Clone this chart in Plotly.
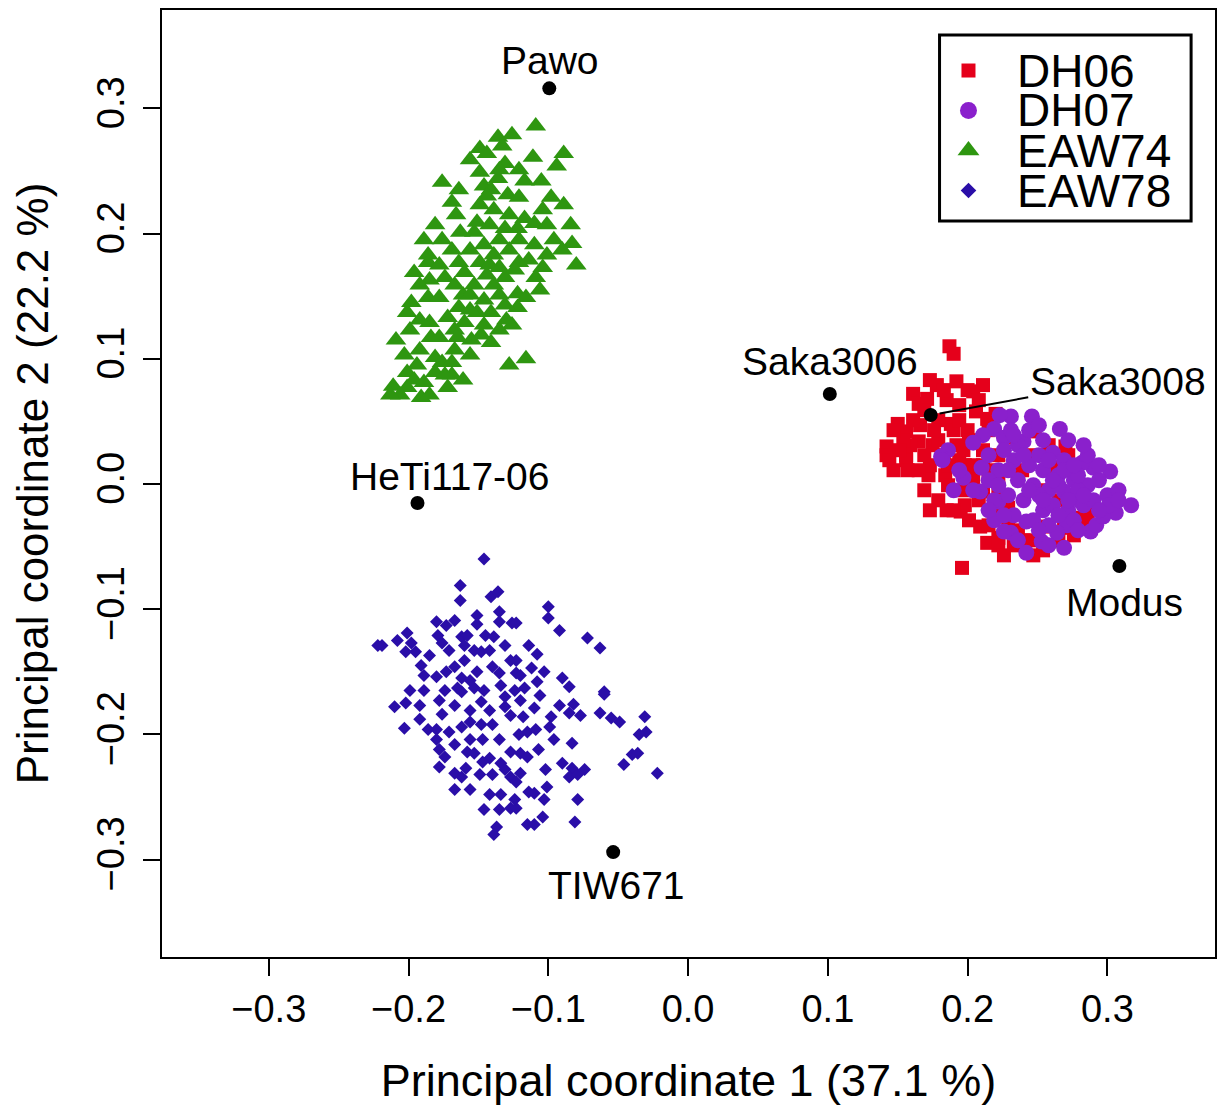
import plotly.graph_objects as go

# ---------------- data ----------------
dh06_x = [0.187,0.190,0.173,0.178,0.192,0.200,0.204,0.161,0.165,0.171,0.185,0.194,0.206,0.150,0.156,0.166,0.188,0.200,0.142,0.156,0.165,0.175,0.192,0.214,0.220,
          0.142,0.156,0.157,0.172,0.184,0.173,0.185,0.195,0.198,0.173,0.198,0.204,0.209,0.214,0.222,0.196,0.219,0.211,0.257,0.247,0.269,0.281,0.289,0.229,0.239,0.264,0.248,0.270,0.228,
          0.179,0.190,0.201,0.211,0.183,0.194,0.204,0.215,0.186,0.197,0.208,0.222,0.229,0.236,0.179,0.169,0.159,0.215,0.222,0.251,0.265,0.222,0.233,0.244,0.217,0.154,0.147,
          0.147,0.169,0.183,0.176,0.161,0.194,0.208,0.211,0.151,0.165,0.179,0.190,0.201,0.215,0.226,0.240,0.254,0.265,0.276,0.222,0.233,0.244,0.258,0.272,0.186,0.211,0.197,0.169,0.144,0.286]
dh06_y = [0.110,0.104,0.083,0.079,0.082,0.075,0.074,0.072,0.064,0.068,0.067,0.063,0.058,0.048,0.042,0.047,0.048,0.043,0.030,0.023,0.034,0.031,0.031,0.052,0.056,
          0.023,0.019,0.011,0.007,0.007,-0.021,-0.021,-0.022,-0.017,0.015,0.015,0.005,-0.034,-0.047,-0.043,-0.067,-0.022,-0.006,-0.034,-0.057,-0.035,-0.027,-0.019,-0.019,0.011,0.013,0.042,0.030,0.037,
          0.051,0.043,0.035,0.027,0.023,0.019,0.015,0.011,-0.001,-0.005,-0.013,-0.009,-0.029,-0.037,0.035,0.023,0.031,0.043,0.023,-0.005,-0.013,-0.049,-0.049,-0.045,0.047,0.035,0.011,
          0.043,0.059,0.075,0.043,0.051,0.051,0.067,0.079,0.027,0.011,-0.013,-0.021,-0.029,-0.033,-0.057,-0.045,-0.053,-0.045,-0.041,0.003,0.011,0.023,0.031,0.023,0.015,0.015,0.027,-0.005,0.019,-0.029]

dh07_x = [0.302,0.317,0.306,0.300,0.290,0.282,0.288,0.292,0.297,0.271,0.264,0.269,0.253,0.242,0.231,0.242,0.254,0.281,0.269,0.246,0.266,0.231,0.240,0.261,0.223,0.219,0.211,0.204,0.186,0.181,0.226,
          0.182,0.197,0.190,0.209,0.210,0.222,0.219,0.226,
          0.233,0.244,0.254,0.265,0.276,0.286,0.236,0.247,0.258,0.279,0.229,0.240,0.251,0.261,0.272,0.283,0.290,0.222,0.215,0.233,0.247,0.258,0.276,0.226,0.236,0.251,0.269,0.254,0.279,0.265,0.215,0.231,0.244,0.294,0.286,
          0.272,0.283,0.294,0.308,0.301,0.222,0.229,0.240,0.258,0.269,0.283,0.294,0.279,0.251,0.236,0.226,0.219,0.265,0.254,0.244,0.261,0.276,0.233,0.251,0.194,0.204,0.215,0.272,0.308,0.258]
dh07_y = [0.010,-0.017,-0.023,-0.009,0.013,0.017,-0.038,-0.033,-0.026,-0.033,-0.039,-0.051,-0.046,-0.055,-0.039,-0.030,-0.021,-0.014,-0.006,0.054,0.044,0.054,0.034,0.025,0.055,0.044,0.039,0.033,0.027,0.022,0.037,
          0.019,0.005,-0.005,-0.006,0.013,-0.014,-0.029,-0.038,
          0.019,0.015,0.011,0.007,0.003,-0.001,0.003,-0.001,-0.005,-0.005,-0.009,-0.013,-0.009,-0.017,-0.021,-0.017,-0.013,0.011,0.003,-0.025,-0.029,-0.033,-0.029,0.027,0.031,0.023,0.019,0.035,0.007,-0.001,0.023,0.043,0.043,0.003,0.023,
          0.035,0.031,0.015,-0.005,-0.017,-0.001,0.011,0.023,0.019,0.011,-0.009,-0.021,-0.037,-0.037,-0.045,-0.025,-0.013,-0.025,-0.013,-0.005,0.003,0.015,0.039,0.047,0.011,-0.005,-0.021,-0.013,-0.013,-0.049]

eaw74_x = [-0.109,-0.136,-0.149,-0.144,-0.133,-0.111,-0.089,-0.094,-0.131,-0.149,-0.176,-0.117,-0.105,-0.136,-0.146,-0.169,-0.098,-0.129,-0.141,-0.084,-0.110,-0.101,-0.083,-0.090,-0.122,-0.176,-0.186,
           -0.080,-0.109,-0.122,-0.122,-0.126,-0.130,-0.141,-0.141,-0.128,-0.116,-0.209,-0.201,-0.198,-0.186,-0.185,-0.184,-0.165,-0.155,-0.148,-0.164,-0.161,-0.174,-0.153,-0.144,-0.131,-0.186,-0.164,
           -0.211,-0.201,-0.194,-0.181,-0.176,-0.169,-0.189,-0.201,-0.172,-0.191,-0.169,-0.181,
           -0.149,-0.139,-0.128,-0.142,-0.153,-0.135,-0.146,-0.156,-0.139,-0.128,-0.149,-0.160,-0.135,-0.121,-0.167,-0.156,-0.146,-0.135,-0.151,-0.160,-0.172,-0.178,-0.169,-0.178,-0.196,-0.163,-0.117,
           -0.110,-0.101,-0.121,-0.116,-0.135,-0.146,-0.167,-0.156,-0.144,-0.131,-0.104,-0.178,-0.192,-0.185,-0.206,
           -0.126,-0.156,-0.121,-0.164,-0.104,-0.089,-0.181,-0.166,-0.189,-0.114,-0.096,-0.124,-0.192,-0.199,-0.156,-0.139,-0.167,-0.203,-0.192,-0.174,-0.161,-0.196,-0.213,-0.185,-0.106,-0.131,-0.142,-0.151,-0.121,-0.135]
eaw74_y = [0.286,0.277,0.268,0.264,0.270,0.261,0.264,0.254,0.256,0.249,0.241,0.242,0.242,0.244,0.238,0.225,0.229,0.231,0.235,0.207,0.208,0.207,0.192,0.187,0.204,0.195,0.183,
           0.175,0.165,0.152,0.141,0.127,0.131,0.137,0.113,0.095,0.100,0.115,0.137,0.145,0.149,0.129,0.117,0.117,0.115,0.119,0.141,0.151,0.165,0.159,0.167,0.165,0.177,0.177,
           0.078,0.089,0.095,0.101,0.097,0.097,0.081,0.077,0.077,0.069,0.087,0.089,
           0.223,0.219,0.215,0.207,0.201,0.195,0.191,0.187,0.183,0.187,0.177,0.169,0.173,0.177,0.159,0.151,0.147,0.151,0.137,0.129,0.133,0.149,0.187,0.175,0.169,0.201,0.212,
           0.191,0.183,0.195,0.149,0.123,0.127,0.107,0.103,0.230,0.204,0.173,0.117,0.131,0.163,0.071,
           0.279,0.259,0.251,0.235,0.219,0.223,0.207,0.215,0.195,0.179,0.195,0.171,0.159,0.123,0.139,0.159,0.123,0.103,0.107,0.087,0.083,0.083,0.071,0.071,0.155,0.143,0.175,0.209,0.229,0.251]

eaw78_x = [-0.146,-0.163,-0.163,-0.141,-0.136,-0.135,-0.135,-0.126,-0.151,-0.151,-0.180,-0.173,-0.167,-0.179,-0.176,-0.162,-0.158,-0.160,-0.153,-0.148,-0.145,-0.139,-0.219,-0.208,-0.201,-0.198,-0.195,-0.202,
           -0.191,-0.189,-0.180,-0.173,-0.167,-0.162,-0.151,-0.140,-0.135,-0.127,-0.123,-0.134,-0.153,-0.165,
           -0.100,-0.100,-0.092,-0.072,-0.063,-0.123,-0.108,-0.123,-0.112,-0.103,-0.120,-0.108,-0.090,-0.085,-0.060,-0.117,
           -0.210,-0.202,-0.203,-0.176,-0.186,-0.180,-0.171,-0.162,-0.156,-0.156,-0.148,-0.162,-0.148,-0.140,-0.131,-0.127,-0.131,-0.147,-0.180,-0.178,-0.174,-0.178,-0.167,-0.162,-0.159,-0.158,-0.153,-0.142,
           -0.140,-0.134,-0.127,-0.127,-0.134,-0.127,-0.137,-0.139,-0.147,
           -0.060,-0.082,-0.085,-0.077,-0.063,-0.055,-0.049,-0.031,-0.030,-0.035,-0.110,-0.120,-0.118,-0.098,-0.099,-0.115,-0.109,-0.083,-0.107,-0.120,-0.115,-0.090,-0.083,-0.074,-0.085,-0.079,-0.102,
           -0.120,-0.123,-0.101,-0.114,-0.110,-0.079,-0.123,-0.104,-0.115,-0.110,-0.081,-0.046,-0.040,-0.036,-0.022,
           -0.189,-0.178,-0.167,-0.146,-0.142,-0.135,-0.121,-0.156,-0.167,-0.149,-0.156,-0.142,-0.124,-0.135,-0.192,-0.199,-0.222,-0.160,-0.114,
           -0.185,-0.171,-0.142,-0.131,-0.174,-0.156,-0.124,-0.106,-0.096,-0.131,-0.167,-0.146,-0.103,-0.092,-0.192]
eaw78_y = [-0.060,-0.081,-0.093,-0.090,-0.086,-0.102,-0.110,-0.111,-0.105,-0.112,-0.110,-0.113,-0.109,-0.121,-0.127,-0.122,-0.121,-0.129,-0.133,-0.134,-0.121,-0.122,-0.129,-0.125,-0.119,-0.127,-0.134,-0.134,
           -0.145,-0.153,-0.154,-0.150,-0.146,-0.155,-0.150,-0.146,-0.151,-0.141,-0.151,-0.161,-0.163,-0.163,
           -0.098,-0.107,-0.117,-0.123,-0.131,-0.111,-0.136,-0.141,-0.147,-0.150,-0.153,-0.158,-0.155,-0.162,-0.166,-0.163,
           -0.178,-0.175,-0.195,-0.184,-0.196,-0.196,-0.198,-0.194,-0.190,-0.181,-0.174,-0.166,-0.192,-0.192,-0.178,-0.185,-0.170,-0.204,-0.204,-0.212,-0.218,-0.226,-0.231,-0.234,-0.227,-0.214,-0.215,-0.219,
           -0.232,-0.223,-0.214,-0.234,-0.248,-0.259,-0.274,-0.280,-0.222,
           -0.168,-0.176,-0.183,-0.185,-0.183,-0.187,-0.190,-0.186,-0.198,-0.200,-0.179,-0.173,-0.186,-0.186,-0.194,-0.198,-0.196,-0.207,-0.212,-0.215,-0.218,-0.223,-0.227,-0.228,-0.234,-0.232,-0.228,
           -0.231,-0.238,-0.242,-0.246,-0.247,-0.252,-0.259,-0.266,-0.272,-0.272,-0.270,-0.224,-0.216,-0.215,-0.231,
           -0.165,-0.173,-0.177,-0.165,-0.181,-0.204,-0.200,-0.204,-0.208,-0.232,-0.244,-0.248,-0.252,-0.260,-0.177,-0.165,-0.129,-0.141,-0.129,
           -0.137,-0.133,-0.133,-0.129,-0.165,-0.157,-0.165,-0.169,-0.204,-0.228,-0.244,-0.260,-0.252,-0.177,-0.188]

ref_names = ["Pawo", "Saka3006", "Saka3008", "HeTi117-06", "Modus", "TIW671"]
ref_x = [-0.0993, 0.1014, 0.1736, -0.1936, 0.3086, -0.0536]
ref_y = [0.316, 0.0719, 0.0551, -0.0152, -0.0655, -0.294]

tick_vals = [-0.3, -0.2, -0.1, 0.0, 0.1, 0.2, 0.3]
legend_names = ["DH06", "DH07", "EAW74", "EAW78"]

# ---------------- styles ----------------
RED = "#E5001B"
PURPLE = "#8A20CC"
GREEN = "#2E9610"
BLUE = "#2A0EA8"
FONT = "Liberation Sans, Arial, sans-serif"

fig = go.Figure()
groups = [
    (dh06_x, dh06_y, RED, "square", 14),
    (dh07_x, dh07_y, PURPLE, "circle", 16),
    (eaw74_x, eaw74_y, GREEN, "triangle-up", 18),
    (eaw78_x, eaw78_y, BLUE, "diamond", 10),
]
for (gx, gy, col, sym, sz), name in zip(groups, legend_names):
    fig.add_trace(go.Scatter(x=gx, y=gy, mode="markers", name=name, showlegend=False,
                             marker=dict(color=col, symbol=sym, size=sz, line=dict(width=0))))

fig.add_trace(go.Scatter(x=ref_x, y=ref_y, mode="markers", showlegend=False,
                         marker=dict(color="black", size=14, line=dict(width=0))))

# label annotations (pixel offsets relative to the points)
offsets = {"Pawo": (1, 28), "Saka3006": (0, 32), "HeTi117-06": (32, 27),
           "Modus": (5, -36), "TIW671": (3, -33)}
for name, x, y in zip(ref_names, ref_x, ref_y):
    if name == "Saka3008":
        fig.add_annotation(x=x, y=y, text=name, showarrow=True, ax=187, ay=-34,
                           arrowhead=0, arrowwidth=2, arrowcolor="black", standoff=9,
                           font=dict(family=FONT, size=39, color="black"))
    else:
        dx, dy = offsets[name]
        fig.add_annotation(x=x, y=y, text=name, showarrow=False, xshift=dx, yshift=dy,
                           xanchor="center", yanchor="middle",
                           font=dict(family=FONT, size=39, color="black"))

# manual legend drawn on an overlay axis spanning the plot area
leg_rows = [0.9361, 0.8939, 0.8516, 0.8094]
leg_syms = [("square", RED, 14), ("circle", PURPLE, 17), ("triangle-up", GREEN, 19), ("diamond", BLUE, 12)]
for (sym, col, sz), ry, name in zip(leg_syms, leg_rows, legend_names):
    fig.add_trace(go.Scatter(x=[0.7659], y=[ry], xaxis="x2", yaxis="y2", mode="markers",
                             showlegend=False, hoverinfo="skip",
                             marker=dict(symbol=sym, color=col, size=sz, line=dict(width=0))))
    fig.add_annotation(x=0.8104, y=ry, xref="x2", yref="y2", text=name, showarrow=False,
                       xanchor="left", yanchor="middle",
                       font=dict(family=FONT, size=46, color="black"))
fig.add_shape(type="rect", xref="x2", yref="y2", x0=0.7384, x1=0.9773, y0=0.7772, y1=0.9736,
              line=dict(color="black", width=3), fillcolor="rgba(0,0,0,0)")

axis_common = dict(
    showline=True, mirror=True, linecolor="black", linewidth=2,
    ticks="outside", ticklen=17, tickwidth=2, tickcolor="black",
    tickvals=tick_vals, tickformat=".1f",
    showgrid=False, zeroline=False,
    tickfont=dict(family=FONT, size=38, color="black"),
)
fig.update_layout(
    width=1219, height=1106,
    margin=dict(l=162, r=2, t=10, b=149),
    paper_bgcolor="white", plot_bgcolor="white",
    showlegend=False,
    xaxis=dict(range=[-0.3764, 0.377], ticklabelstandoff=0,
               title=dict(text="Principal coordinate 1 (37.1 %)", standoff=38,
                          font=dict(family=FONT, size=45, color="black")),
               **axis_common),
    yaxis=dict(range=[-0.3778, 0.3786], tickangle=-90, ticklabelstandoff=4,
               title=dict(text="Principal coordinate 2 (22.2 %)", standoff=27,
                          font=dict(family=FONT, size=44, color="black")),
               **axis_common),
    xaxis2=dict(overlaying="x", range=[0, 1], visible=False, fixedrange=True),
    yaxis2=dict(overlaying="y", range=[0, 1], visible=False, fixedrange=True),
)

fig.write_html("out.html", config={"displayModeBar": False},
               post_script="document.body.style.margin='0';document.body.style.padding='0';")
